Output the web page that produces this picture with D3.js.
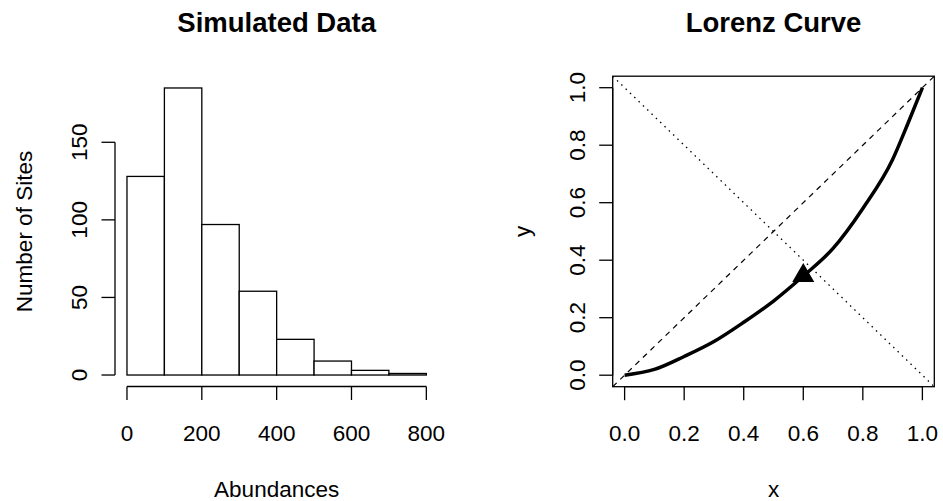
<!DOCTYPE html>
<html>
<head>
<meta charset="utf-8">
<script src="https://d3js.org/d3.v7.min.js"></script>
<style>
  body { margin: 0; background: #fff; }
  svg text { font-family: "Liberation Sans", Arial, sans-serif; fill: #000; }
  .tick-label { font-size: 22.5px; }
  .axis-title { font-size: 22.5px; }
  .main-title { font-size: 27.5px; font-weight: bold; }
</style>
</head>
<body>
<div id="chart"></div>
<script>
// histogram of simulated abundances
const binEdges = [0, 100, 200, 300, 400, 500, 600, 700, 800]
const binCounts = [128, 185, 97, 54, 23, 9, 3, 1]
const histXTicks = [0, 200, 400, 600, 800]
const histYTicks = [0, 50, 100, 150]

// lorenz curve
const lorenzX = [0, 0.1, 0.2, 0.3, 0.4, 0.5, 0.6, 0.7, 0.8, 0.9, 0.95, 1.0]
const lorenzY = [0, 0.02, 0.065, 0.117, 0.184, 0.258, 0.345, 0.441, 0.58, 0.75, 0.872, 1.0]
const asymPoint = [0.6, 0.346]
const unitTicks = [0, 0.2, 0.4, 0.6, 0.8, 1.0]

const W = 943, H = 501

let svg = d3.select("#chart")
    .append("svg")
    .attr("width", W)
    .attr("height", H)

svg.append("rect").attr("width", W).attr("height", H).attr("fill", "#fff")

// plot regions (R style, 4% padding around data range)
const left = { x0: 115, x1: 438.3, y0: 76.5, y1: 386.5 }
const right = { x0: 612.7, x1: 934.3, y0: 76.2, y1: 386.7 }

const tickLen = 13.5

function drawBottomAxis(g, scale, ticks, fmt, yLine) {
    g.append("line")
        .attr("x1", scale(ticks[0])).attr("x2", scale(ticks[ticks.length - 1]))
        .attr("y1", yLine).attr("y2", yLine)
        .attr("stroke", "#000").attr("stroke-width", 1.3)
    g.selectAll(null).data(ticks).enter().append("line")
        .attr("x1", d => scale(d)).attr("x2", d => scale(d))
        .attr("y1", yLine).attr("y2", yLine + tickLen)
        .attr("stroke", "#000").attr("stroke-width", 1.3)
    g.selectAll(null).data(ticks).enter().append("text")
        .attr("class", "tick-label")
        .attr("x", d => scale(d))
        .attr("y", 441)
        .attr("text-anchor", "middle")
        .text(fmt)
}

function drawLeftAxis(g, scale, ticks, fmt, xLine) {
    g.append("line")
        .attr("x1", xLine).attr("x2", xLine)
        .attr("y1", scale(ticks[0])).attr("y2", scale(ticks[ticks.length - 1]))
        .attr("stroke", "#000").attr("stroke-width", 1.3)
    g.selectAll(null).data(ticks).enter().append("line")
        .attr("x1", xLine - tickLen).attr("x2", xLine)
        .attr("y1", d => scale(d)).attr("y2", d => scale(d))
        .attr("stroke", "#000").attr("stroke-width", 1.3)
    g.selectAll(null).data(ticks).enter().append("text")
        .attr("class", "tick-label")
        .attr("text-anchor", "middle")
        .attr("transform", d => "translate(" + (xLine - 28) + "," + scale(d) + ") rotate(-90)")
        .text(fmt)
}

function titles(box, main, xlab, ylab) {
    let cx = (box.x0 + box.x1) / 2
    let cy = (box.y0 + box.y1) / 2
    svg.append("text").attr("class", "main-title")
        .attr("x", cx).attr("y", 32).attr("text-anchor", "middle").text(main)
    svg.append("text").attr("class", "axis-title")
        .attr("x", cx).attr("y", 497).attr("text-anchor", "middle").text(xlab)
    svg.append("text").attr("class", "axis-title")
        .attr("text-anchor", "middle")
        .attr("transform", "translate(" + (box.x0 - 83) + "," + cy + ") rotate(-90)")
        .text(ylab)
}

// ---- left: histogram ----
let hx = d3.scaleLinear().domain([-32, 832]).range([left.x0, left.x1])
let hy = d3.scaleLinear().domain([-7.4, 192.4]).range([left.y1, left.y0])

let gl = svg.append("g")
gl.selectAll("rect.bar")
    .data(binCounts)
    .enter()
    .append("rect")
    .attr("class", "bar")
    .attr("x", (d, i) => hx(binEdges[i]))
    .attr("width", (d, i) => hx(binEdges[i + 1]) - hx(binEdges[i]))
    .attr("y", d => hy(d))
    .attr("height", d => hy(0) - hy(d))
    .attr("fill", "#fff")
    .attr("stroke", "#000")
    .attr("stroke-width", 1.3)

drawBottomAxis(gl, hx, histXTicks, d => d, left.y1)
drawLeftAxis(gl, hy, histYTicks, d => d, left.x0)
titles(left, "Simulated Data", "Abundances", "Number of Sites")

// ---- right: lorenz curve ----
let lx = d3.scaleLinear().domain([-0.04, 1.04]).range([right.x0, right.x1])
let ly = d3.scaleLinear().domain([-0.04, 1.04]).range([right.y1, right.y0])

let gr = svg.append("g")

svg.append("clipPath").attr("id", "clipR")
    .append("rect")
    .attr("x", right.x0).attr("y", right.y0)
    .attr("width", right.x1 - right.x0).attr("height", right.y1 - right.y0)

let inner = gr.append("g").attr("clip-path", "url(#clipR)")

// equality line
inner.append("line")
    .attr("x1", lx(-0.04)).attr("y1", ly(-0.04))
    .attr("x2", lx(1.04)).attr("y2", ly(1.04))
    .attr("stroke", "#000").attr("stroke-width", 1.2)
    .attr("stroke-dasharray", "5.5,5")

// symmetry line
inner.append("line")
    .attr("x1", lx(-0.04)).attr("y1", ly(1.04))
    .attr("x2", lx(1.04)).attr("y2", ly(-0.04))
    .attr("stroke", "#000").attr("stroke-width", 1.3)
    .attr("stroke-dasharray", "1.5,4.5")

let line = d3.line()
    .x(d => lx(d[0]))
    .y(d => ly(d[1]))
    .curve(d3.curveMonotoneX)

inner.append("path")
    .datum(d3.zip(lorenzX, lorenzY))
    .attr("d", line)
    .attr("fill", "none")
    .attr("stroke", "#000")
    .attr("stroke-width", 3.5)

// asymmetry point, R pch 17
let xc = 8.2
inner.append("path")
    .datum(asymPoint)
    .attr("d", d => {
        let px = lx(d[0]), py = ly(d[1])
        return "M" + px + "," + (py - 1.555 * xc) +
            "L" + (px + 1.347 * xc) + "," + (py + 0.777 * xc) +
            "L" + (px - 1.347 * xc) + "," + (py + 0.777 * xc) + "Z"
    })
    .attr("fill", "#000")

gr.append("rect")
    .attr("x", right.x0).attr("y", right.y0)
    .attr("width", right.x1 - right.x0).attr("height", right.y1 - right.y0)
    .attr("fill", "none").attr("stroke", "#000").attr("stroke-width", 1.3)

drawBottomAxis(gr, lx, unitTicks, d => d.toFixed(1), right.y1)
drawLeftAxis(gr, ly, unitTicks, d => d.toFixed(1), right.x0)
titles(right, "Lorenz Curve", "x", "y")
</script>
</body>
</html>
